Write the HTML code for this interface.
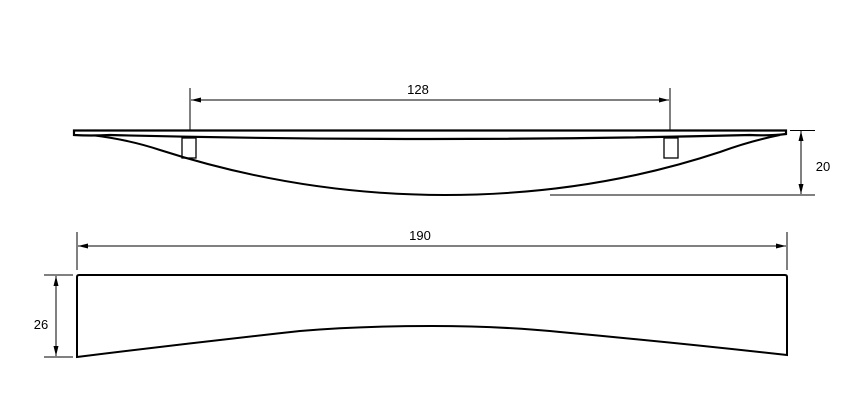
<!DOCTYPE html>
<html><head><meta charset="utf-8"><style>
html,body{margin:0;padding:0;background:#fff;width:852px;height:400px;overflow:hidden}
svg{display:block}
text{font-family:"Liberation Sans",sans-serif;font-size:13px;fill:#000}
</style></head><body>
<svg width="852" height="400" viewBox="0 0 852 400" xmlns="http://www.w3.org/2000/svg">
<defs>
<marker id="a" viewBox="0 0 10 6" refX="10" refY="3" markerWidth="10" markerHeight="6" orient="auto-start-reverse" markerUnits="userSpaceOnUse">
<path d="M0,0.5 L10,3 L0,5.5 z" fill="#000"/></marker>
</defs>
<g fill="none" stroke="#000">
<!-- top view -->
<path d="M74,130.5 L786,130.5 L786,134 Q770,136 750,135 Q430,143 110,135 Q90,136 74,135 Z" stroke-width="2.2"/>
<path d="M95,135.5 Q130,140 160,150 Q300,195 445,195 Q590,195 720,152 Q750,141 780,135" stroke-width="2"/>
<rect x="182" y="138" width="14" height="20" stroke-width="1.3"/>
<rect x="664" y="138" width="14" height="20" stroke-width="1.3"/>
<g stroke-width="1">
<line x1="190" y1="88" x2="190" y2="130"/>
<line x1="670" y1="88" x2="670" y2="130"/>
<line x1="191" y1="100" x2="669" y2="100" marker-start="url(#a)" marker-end="url(#a)"/>
<line x1="790" y1="130.5" x2="815" y2="130.5"/>
<line x1="550" y1="195" x2="815" y2="195"/>
<line x1="801" y1="131" x2="801" y2="194" marker-start="url(#a)" marker-end="url(#a)"/>
</g>
<!-- bottom view -->
<path d="M79,275 L785,275 Q787,275 787,277 L787,355 Q680,343 560,332 Q500,326 432,326 Q360,326 300,331 Q190,343 77,357 L77,277 Q77,275 79,275 Z" stroke-width="2"/>
<g stroke-width="1">
<line x1="77" y1="232" x2="77" y2="270"/>
<line x1="787" y1="232" x2="787" y2="270"/>
<line x1="78" y1="246" x2="786" y2="246" marker-start="url(#a)" marker-end="url(#a)"/>
<line x1="44" y1="275" x2="73" y2="275"/>
<line x1="44" y1="357" x2="73" y2="357"/>
<line x1="56" y1="276" x2="56" y2="356" marker-start="url(#a)" marker-end="url(#a)"/>
</g>
</g>
<text x="418" y="94" text-anchor="middle">128</text>
<text x="823" y="171" text-anchor="middle">20</text>
<text x="420" y="240" text-anchor="middle">190</text>
<text x="41" y="329" text-anchor="middle">26</text>
</svg>
</body></html>
